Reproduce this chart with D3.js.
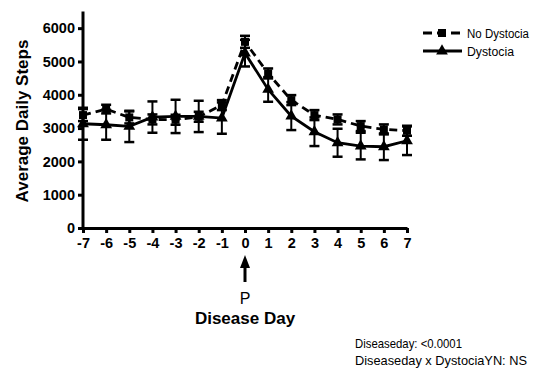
<!DOCTYPE html>
<html>
<head>
<meta charset="utf-8">
<script src="https://cdn.jsdelivr.net/npm/d3@7"></script>
<style>
  html, body { margin: 0; padding: 0; background: #fff; }
  svg { display: block; font-family: "Liberation Sans", Arial, sans-serif; }
</style>
</head>
<body>
<svg id="chart" width="539" height="372"></svg>
<script>
// Disease day relative to onset (0 = parturition)
const days = [-7, -6, -5, -4, -3, -2, -1, 0, 1, 2, 3, 4, 5, 6, 7];

// Average daily steps and SEM per group
const noDystociaMean = [3390, 3570, 3320, 3260, 3250, 3340, 3690, 5590, 4640, 3840, 3390, 3260, 3060, 2960, 2920];
const noDystociaSem  = [180, 130, 180, 150, 150, 150, 150, 180, 150, 150, 150, 150, 150, 150, 150];
const dystociaMean   = [3130, 3100, 3050, 3330, 3350, 3350, 3300, 5250, 4160, 3360, 2890, 2560, 2460, 2440, 2620];
const dystociaSem    = [480, 450, 470, 470, 500, 470, 470, 400, 370, 420, 430, 420, 400, 400, 430];

const yTicks = [0, 1000, 2000, 3000, 4000, 5000, 6000];
const seriesNames = ["No Dystocia", "Dystocia"];
const statsLines = ["Diseaseday: <0.0001", "Diseaseday x DystociaYN: NS"];

const svg = d3.select("#chart");

const x = d3.scaleLinear().domain([-7, 7]).range([83, 407]);
const y = d3.scaleLinear().domain([0, 6500]).range([228, 11.5]);

// Axes (plain integers, ASCII hyphen for negatives)
const plain = d => String(d);
const yAxis = d3.axisLeft(y).tickValues(yTicks).tickFormat(plain).tickSize(5).tickPadding(3).tickSizeOuter(0);
const xAxis = d3.axisBottom(x).tickValues(days).tickFormat(plain).tickSize(5).tickPadding(3).tickSizeOuter(0);

const gy = svg.append("g").attr("transform", `translate(${x(-7)},0)`).call(yAxis);
const gx = svg.append("g").attr("transform", `translate(0,${y(0)})`).call(xAxis);

[gx, gy].forEach(g => {
  g.select(".domain").attr("stroke", "#000").attr("stroke-width", 3);
  g.selectAll(".tick line").attr("stroke", "#000").attr("stroke-width", 3);
  g.selectAll(".tick text")
    .attr("fill", "#000")
    .style("font-size", "14.5px")
    .style("font-weight", "bold")
    .style("font-family", "'Liberation Sans', Arial, sans-serif");
});
gx.selectAll(".tick text").attr("dy", "0.85em");
gy.select(".domain").attr("d", `M0,${y(0)}V${y(6500)}`);

// Series
const series = [
  { name: seriesNames[0], mean: noDystociaMean, sem: noDystociaSem, dash: "8,5", marker: "square" },
  { name: seriesNames[1], mean: dystociaMean, sem: dystociaSem, dash: null, marker: "triangle" }
];

const line = d3.line().x(d => x(d.day)).y(d => y(d.v));

series.forEach(s => {
  const pts = days.map((d, i) => ({ day: d, v: s.mean[i], e: s.sem[i] }));
  const g = svg.append("g");

  // Error bars
  const eb = g.selectAll(".eb").data(pts).enter().append("g");
  eb.append("line")
    .attr("x1", d => x(d.day)).attr("x2", d => x(d.day))
    .attr("y1", d => y(d.v + d.e)).attr("y2", d => y(d.v - d.e))
    .attr("stroke", "#000").attr("stroke-width", 2);
  [1, -1].forEach(sign => {
    eb.append("line")
      .attr("x1", d => x(d.day) - 5).attr("x2", d => x(d.day) + 5)
      .attr("y1", d => y(d.v + sign * d.e)).attr("y2", d => y(d.v + sign * d.e))
      .attr("stroke", "#000").attr("stroke-width", 2.5);
  });

  // Connecting line
  g.append("path").datum(pts)
    .attr("d", line)
    .attr("fill", "none")
    .attr("stroke", "#000")
    .attr("stroke-width", 2.8)
    .attr("stroke-dasharray", s.dash);

  // Markers
  const sym = d3.symbol().type(s.marker === "square" ? d3.symbolSquare : d3.symbolTriangle)
    .size(s.marker === "square" ? 64 : 60);
  g.selectAll(".m").data(pts).enter().append("path")
    .attr("transform", d => `translate(${x(d.day)},${y(d.v)})`)
    .attr("d", sym)
    .attr("fill", "#000");
});

// Legend
const legend = svg.append("g");
series.forEach((s, i) => {
  const ly = 33 + i * 18;
  legend.append("line")
    .attr("x1", 423).attr("x2", 462).attr("y1", ly).attr("y2", ly)
    .attr("stroke", "#000").attr("stroke-width", 2.8)
    .attr("stroke-dasharray", s.dash ? "9,5" : null);
  const sym = d3.symbol().type(s.marker === "square" ? d3.symbolSquare : d3.symbolTriangle)
    .size(s.marker === "square" ? 64 : 60);
  legend.append("path").attr("d", sym).attr("transform", `translate(442,${ly})`).attr("fill", "#000");
  legend.append("text")
    .attr("x", 467).attr("y", ly + 5)
    .attr("textLength", i === 0 ? 62 : 47)
    .attr("lengthAdjust", "spacingAndGlyphs")
    .style("font-size", "12.5px")
    .text(s.name);
});

// Y axis title
svg.append("text")
  .attr("transform", `translate(28,121) rotate(-90)`)
  .attr("text-anchor", "middle")
  .style("font-size", "17px")
  .style("font-weight", "bold")
  .text("Average Daily Steps");

// Arrow marking onset
const ax = x(0);
svg.append("line")
  .attr("x1", ax).attr("x2", ax).attr("y1", 266).attr("y2", 282)
  .attr("stroke", "#000").attr("stroke-width", 3);
svg.append("path")
  .attr("d", `M${ax},255L${ax - 5},268L${ax + 5},268Z`)
  .attr("fill", "#000");

svg.append("text")
  .attr("x", ax).attr("y", 304)
  .attr("text-anchor", "middle")
  .style("font-size", "16px")
  .text("P");

// X axis title
svg.append("text")
  .attr("x", ax).attr("y", 324)
  .attr("text-anchor", "middle")
  .style("font-size", "17px")
  .style("font-weight", "bold")
  .text("Disease Day");

// Statistics note
statsLines.forEach((t, i) => {
  svg.append("text")
    .attr("x", 355).attr("y", 348 + i * 17)
    .attr("textLength", i === 0 ? 107 : 172)
    .attr("lengthAdjust", "spacingAndGlyphs")
    .style("font-size", "13px")
    .text(t);
});
</script>
</body>
</html>
